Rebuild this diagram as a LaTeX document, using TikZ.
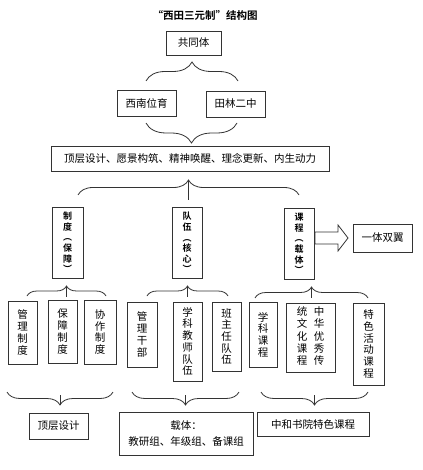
\documentclass[tikz,border=0pt]{standalone}
\usepackage{fontspec}
\setmainfont{Noto Sans CJK SC}[BoldFont={Noto Sans CJK SC Bold}]
\usetikzlibrary{decorations.pathreplacing}
\tikzset{
  box/.style={draw=black!80, line width=0.8pt, inner sep=0pt, align=center,
    font=\fontsize{10.5}{11.7}\selectfont},
  vbox/.style={box},
  mainbox/.style={draw=black!80, line width=0.8pt, inner sep=0pt, align=center,
    font=\bfseries\fontsize{9}{10.6}\selectfont},
  curly/.style={draw=black!80, line width=0.8pt, decorate, decoration={brace, amplitude=#1}},
  stem/.style={draw=black!80, line width=0.8pt},
}
\begin{document}
\begin{tikzpicture}[x=1pt,y=-1pt]
\useasboundingbox (0,0) rectangle (422,470);
\fill[white] (0,0) rectangle (422,470);

\node[font=\bfseries\fontsize{10.5}{12}\selectfont] (title) at (205,15) {“西田三元制”结构图};

\node[box, minimum width=55, minimum height=24] (gt) at (193.5,43) {共同体};
\node[box, minimum width=59, minimum height=26] (xn) at (146.5,103) {西南位育};
\node[box, minimum width=59, minimum height=26] (tl) at (235.5,104) {田林二中};
\node[box, minimum width=278, minimum height=25] (top) at (190,158.5) {顶层设计、愿景构筑、精神唤醒、理念更新、内生动力};

\node[mainbox, minimum width=31, minimum height=71] (zd) at (67.5,242.5) {制\\度\\︵\\保\\障\\︶};
\node[mainbox, minimum width=30, minimum height=71] (dw) at (187,242.5) {队\\伍\\︵\\核\\心\\︶};
\node[mainbox, minimum width=30, minimum height=71] (kc) at (299,243.5) {课\\程\\︵\\载\\体\\︶};
\node[box, minimum width=59, minimum height=28] (yt) at (382.5,238) {一体双翼};

\node[vbox, minimum width=29, minimum height=63] (b1) at (22.5,332.5) {管\\理\\制\\度};
\node[vbox, minimum width=29, minimum height=63] (b2) at (62.5,331.5) {保\\障\\制\\度};
\node[vbox, minimum width=32, minimum height=64] (b3) at (100,332) {协\\作\\制\\度};
\node[vbox, minimum width=30, minimum height=65] (b4) at (142,334.5) {管\\理\\干\\部};
\node[vbox, minimum width=29, minimum height=79] (b5) at (187.5,341.5) {学\\科\\教\\师\\队\\伍};
\node[vbox, minimum width=29, minimum height=69] (b6) at (226.5,336.5) {班\\主\\任\\队\\伍};
\node[vbox, minimum width=28, minimum height=65] (b7) at (263,334.5) {学\\科\\课\\程};
\node[vbox, minimum width=49, minimum height=69] (b8) at (310.5,337.5)
  {\begin{tabular}{@{}c@{\hspace{6.5pt}}c@{}}统&中\\文&华\\化&优\\课&秀\\程&传\end{tabular}};
\node[vbox, minimum width=31, minimum height=82] (b9) at (368.5,344) {特\\色\\活\\动\\课\\程};

\node[box, minimum width=59, minimum height=26] (d1) at (58.5,426) {顶层设计};
\node[box, minimum width=134, minimum height=43, font=\fontsize{10.5}{16}\selectfont] (d2) at (186,433.5) {载体：\\教研组、年级组、备课组};
\node[box, minimum width=112, minimum height=24] (d3) at (313,424) {中和书院特色课程};

% braces
\draw[curly=19] (146,81) -- (238,81);
\draw[curly=20] (237,123) -- (146,123);
\draw[curly=15] (78,195) -- (299,195);
\coordinate (s0) at (188.5,180);
\coordinate (s0b) at (188.5,200);
\draw[stem] (s0) -- (s0b);

\draw[curly=10] (27,296) -- (106,296);
\draw[curly=10] (147,296) -- (228,296);
\draw[curly=11] (255,298) -- (368,298);
\coordinate (sa) at (66.5,286); \coordinate (sab) at (66.5,297);
\coordinate (sb) at (187.5,286); \coordinate (sbb) at (187.5,297);
\coordinate (sc) at (311.5,287); \coordinate (scb) at (311.5,298);
\draw[stem] (sa) -- (sab);
\draw[stem] (sb) -- (sbb);
\draw[stem] (sc) -- (scb);

\draw[curly=13] (113,392) -- (7,392);
\draw[curly=13] (239,392) -- (132,392);
\draw[curly=13] (368,392) -- (261,392);
\coordinate (ta) at (60,395); \coordinate (tab) at (60,405);
\coordinate (tb) at (185.5,395); \coordinate (tbb) at (185.5,405);
\coordinate (tc) at (314.5,395); \coordinate (tcb) at (314.5,405);
\draw[stem] (ta) -- (tab);
\draw[stem] (tb) -- (tbb);
\draw[stem] (tc) -- (tcb);

% hollow arrow
\draw[draw=black!80, line width=0.8pt] (315,232) -- (338,232) -- (338,225) -- (348,238) -- (338,251) -- (338,244) -- (315,244) -- cycle;
\end{tikzpicture}
\end{document}
